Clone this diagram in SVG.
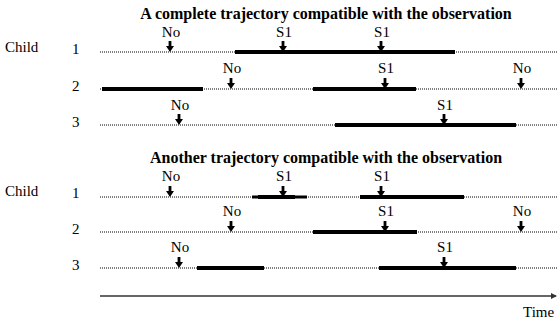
<svg xmlns="http://www.w3.org/2000/svg" width="557" height="322" viewBox="0 0 557 322">
<style>
.txt{font-family:'Liberation Serif','DejaVu Serif','Times New Roman',serif}
.t{font-size:16px;font-weight:bold;text-anchor:middle}
.l{font-size:15px}
.a{font-size:15px;text-anchor:middle}
.dot{stroke:#000;stroke-width:1;stroke-dasharray:1 1;fill:none}
.bar{stroke:#000;stroke-width:4;fill:none}
.thin{stroke:#000;stroke-width:3;fill:none}
</style>
<defs>
<g id="arr"><rect x="-1.4" y="-11" width="2.8" height="6"/><path d="M-4,-6 L4,-6 L0,0 Z"/></g>
<marker id="ah" markerWidth="6" markerHeight="6" refX="5" refY="3" orient="auto" markerUnits="userSpaceOnUse"><path d="M0,0 L6,3 L0,6 Z" fill="#333"/></marker>
</defs>
<g id="labels" class="txt" font-family="Liberation Serif, DejaVu Serif, serif">
<text class="t" x="326" y="19">A complete trajectory compatible with the observation</text>
<text class="t" x="326" y="163">Another trajectory compatible with the observation</text>
<text class="l" x="5" y="52">Child</text>
<text class="l" x="72" y="54">1</text>
<text class="l" x="72" y="91">2</text>
<text class="l" x="72" y="127">3</text>
<text class="l" x="5" y="196">Child</text>
<text class="l" x="72" y="198">1</text>
<text class="l" x="72" y="234">2</text>
<text class="l" x="72" y="270">3</text>
<text class="l" x="523" y="317">Time</text>
</g>
<g id="connectors">
<path class="dot" d="M100,52H557M100,89H557M100,125H557M100,197H557M100,232H557M100,268H557"/>
<line x1="100" y1="296" x2="556" y2="296" stroke="#333" stroke-width="1.3" marker-end="url(#ah)"/>
</g>
<g id="traj1" class="txt" font-family="Liberation Serif, DejaVu Serif, serif">
<path class="bar" d="M235,52H455M102,89H203M313,89H416M335,125H516"/>
<use href="#arr" x="170" y="52"/><text class="a" x="171" y="37">No</text>
<use href="#arr" x="283" y="52"/><text class="a" x="284" y="37">S1</text>
<use href="#arr" x="381" y="52"/><text class="a" x="382" y="37">S1</text>
<use href="#arr" x="231" y="89"/><text class="a" x="232" y="73">No</text>
<use href="#arr" x="385" y="89"/><text class="a" x="386" y="73">S1</text>
<use href="#arr" x="521" y="89"/><text class="a" x="522" y="73">No</text>
<use href="#arr" x="179" y="125"/><text class="a" x="180" y="110">No</text>
<use href="#arr" x="444" y="125"/><text class="a" x="445" y="110">S1</text>
</g>
<g id="traj2" class="txt" font-family="Liberation Serif, DejaVu Serif, serif">
<path class="thin" d="M252,197H307"/>
<path class="bar" d="M258,197H295M360,197H464M313,232H417M197,268H264M379,268H516"/>
<use href="#arr" x="170" y="197"/><text class="a" x="171" y="181">No</text>
<use href="#arr" x="283" y="197"/><text class="a" x="284" y="181">S1</text>
<use href="#arr" x="381" y="197"/><text class="a" x="382" y="181">S1</text>
<use href="#arr" x="231" y="232"/><text class="a" x="232" y="216">No</text>
<use href="#arr" x="385" y="232"/><text class="a" x="386" y="216">S1</text>
<use href="#arr" x="521" y="232"/><text class="a" x="522" y="216">No</text>
<use href="#arr" x="179" y="268"/><text class="a" x="180" y="252">No</text>
<use href="#arr" x="444" y="268"/><text class="a" x="445" y="252">S1</text>
</g>
</svg>
